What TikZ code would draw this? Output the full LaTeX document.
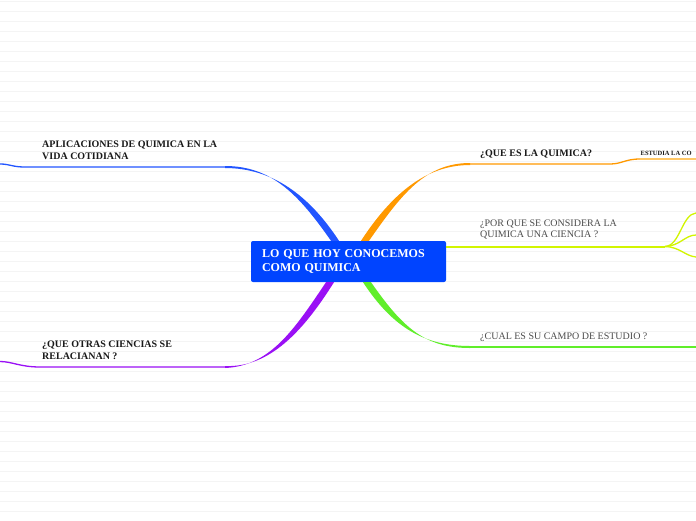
\documentclass[tikz,border=0pt]{standalone}
\usepackage{fontspec}
\setmainfont{Liberation Serif}

\definecolor{rootblue}{HTML}{0044FF}
\definecolor{cblue}{HTML}{2255FF}
\definecolor{corange}{HTML}{FF9900}
\definecolor{corangel}{HTML}{FFC766}
\definecolor{cyellow}{HTML}{D2F500}
\definecolor{cgreen}{HTML}{60EE2A}
\definecolor{cpurple}{HTML}{9A10F5}
\definecolor{ruleline}{HTML}{F4F4F4}

\begin{document}
\begin{tikzpicture}[x=1pt,y=-1pt,
    topic/.style={anchor=base west,inner sep=0pt,align=left,
      font=\fontsize{10}{11.5}\selectfont\bfseries,text=black!90},
    plain/.style={topic,font=\fontsize{10}{11.5}\selectfont,text=black!70},
    thinline/.style={line width=1.3pt}]

  \useasboundingbox (0,0) rectangle (696,520);
  \clip (0,0) rectangle (696,520);
  \fill[white] (0,0) rectangle (696,520);
  \foreach \y in {1,11,...,520}
    \draw[ruleline,line width=1pt] (0,\y) -- (696,\y);

  % central topic
  \node[fill=rootblue,rounded corners=2pt,text=white,
    font=\fontsize{12}{13.7}\selectfont\bfseries,
    text width=173pt,inner xsep=11pt,inner ysep=0pt,minimum height=41pt,align=left]
    (root) at (348.5,261.5) {LO QUE HOY CONOCEMOS\\COMO QUIMICA};

  % main topics (base = last line)
  \node[topic] (aplic)  at (42,159)    {APLICACIONES DE QUIMICA EN LA\\VIDA COTIDIANA};
  \node[topic] (otras)  at (42,359.2)  {¿QUE OTRAS CIENCIAS SE\\RELACIANAN ?};
  \node[topic] (quees)  at (480,156)   {¿QUE ES LA QUIMICA?};
  \node[plain] (porque) at (480,237.7) {¿POR QUE SE CONSIDERA LA\\QUIMICA UNA CIENCIA ?};
  \node[plain] (campo)  at (480,339)   {¿CUAL ES SU CAMPO DE ESTUDIO ?};
  \node[topic,font=\fontsize{6.5}{7}\selectfont\bfseries] (estudia) at (640.5,155.7) {ESTUDIA LA CO};

  % branch points
  \coordinate (b0) at ([xshift=-13.5pt]root.north);
  \coordinate (b3) at (225,167);
  \coordinate (bL) at (0,164);
  \coordinate (o0) at ([xshift=16.5pt]root.north);
  \coordinate (o3) at (470,164);
  \coordinate (oR) at (640,159);
  \coordinate (oE) at (696,159);
  \coordinate (p0) at ([xshift=-18.5pt]root.south);
  \coordinate (p3) at (225,367);
  \coordinate (pL) at (0,361.5);
  \coordinate (g0) at ([xshift=18.5pt]root.south);
  \coordinate (g3) at (470,347);
  \coordinate (gR) at (696,347);
  \coordinate (y0) at ([yshift=15pt]root.east);
  \coordinate (yB) at (665,246.5);
  \coordinate (y1) at (696,213);
  \coordinate (y2) at (696,235);
  \coordinate (y3) at (696,257);

  % blue
  \fill[cblue] ([xshift=-4pt]b0) .. controls (299,195) and (272,166) .. ([yshift=1pt]b3)
    -- ([yshift=-1pt]b3) .. controls (272,168) and (309,195) .. ([xshift=4pt]b0) -- cycle;
  \draw[cblue,thinline] (b3) -- (25,167) .. controls (12,167) and (10,164) .. (bL);

  % purple
  \fill[cpurple] ([xshift=-4pt]p0) .. controls (294,330) and (270,366) .. ([yshift=-1pt]p3)
    -- ([yshift=1pt]p3) .. controls (270,368) and (304,330) .. ([xshift=4pt]p0) -- cycle;
  \draw[cpurple,thinline] (p3) -- (40,367) .. controls (20,367) and (12,361.5) .. (pL);

  % orange
  \fill[corange] ([xshift=4pt]o0) .. controls (401,195) and (425,163) .. ([yshift=1pt]o3)
    -- ([yshift=-1pt]o3) .. controls (425,165) and (391,195) .. ([xshift=-4pt]o0) -- cycle;
  \draw[corange,thinline] (o3) -- (610,164) .. controls (622,164) and (625,159) .. (oR);
  \draw[corangel,thinline] (oR) -- (oE);

  % green
  \fill[cgreen] ([xshift=4pt]g0) .. controls (403,328) and (425,348) .. ([yshift=-1pt]g3)
    -- ([yshift=1pt]g3) .. controls (425,346) and (393,328) .. ([xshift=-4pt]g0) -- cycle;
  \draw[cgreen,thinline] (g3) -- (gR);

  % yellow
  \draw[cyellow,line width=2pt] (y0) -- (yB);
  \draw[cyellow,thinline] (yB) .. controls (680,246) and (682,214) .. (y1);
  \draw[cyellow,thinline] (yB) .. controls (680,246) and (685,235) .. (y2);
  \draw[cyellow,thinline] (yB) .. controls (680,247) and (685,256) .. (y3);

\end{tikzpicture}
\end{document}
